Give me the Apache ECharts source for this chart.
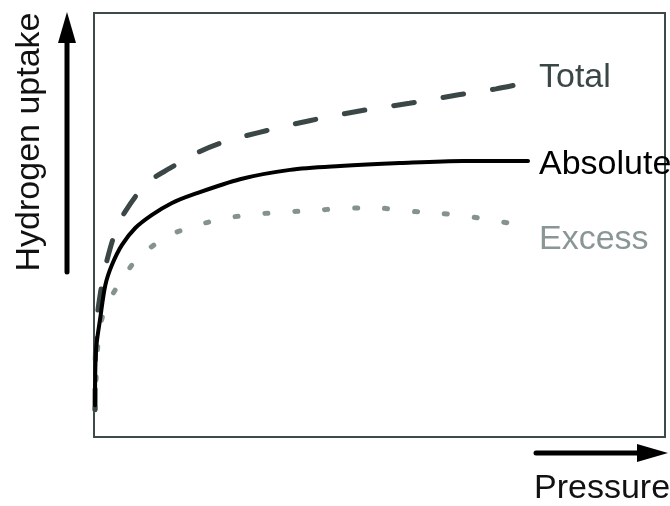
<!DOCTYPE html>
<html>
<head>
<meta charset="utf-8">
<script src="https://cdn.jsdelivr.net/npm/echarts@6/dist/echarts.min.js"></script>
<style>
html,body{margin:0;padding:0;background:#fff;}
#chart{width:670px;height:506px;}
</style>
</head>
<body>
<div id="chart"></div>
<script>
// Values on a 0–100 relative scale (pressure, uptake)
var totalX = [0.18, 0.35, 1.40, 2.28, 3.68, 5.43, 9.28, 13.31, 18.04, 22.07, 28.81, 37.74, 46.50, 55.25, 63.84, 70.40, 74.78];
var totalY = [6.4, 25.2, 36.3, 41.7, 48.1, 53.1, 59.9, 63.4, 67.0, 69.3, 71.8, 74.6, 76.9, 78.7, 80.7, 82.1, 83.3];

var absX = [0.18, 0.35, 1.10, 1.98, 3.15, 4.90, 7.23, 10.16, 13.66, 17.16, 25.57, 34.33, 43.08, 53.59, 64.62, 76.01];
var absY = [7.5, 20.5, 28.1, 35.8, 40.6, 45.3, 49.3, 52.4, 55.2, 57.1, 60.8, 63.0, 63.9, 64.6, 65.1, 65.1];

var excX = [0.18, 0.70, 1.58, 4.03, 7.71, 12.96, 18.21, 23.47, 28.72, 33.98, 39.23, 44.48, 49.74, 54.82, 60.07, 65.15, 70.58, 75.83];
var excY = [6.4, 22.2, 28.8, 35.4, 42.2, 47.4, 50.0, 51.7, 52.6, 53.1, 53.5, 54.0, 54.0, 53.3, 52.8, 52.1, 50.9, 49.8];

var seriesNames = ['Total', 'Absolute', 'Excess'];
var xAxisTitle = 'Pressure';
var yAxisTitle = 'Hydrogen uptake';

function pairs(xs, ys) { return xs.map(function (x, i) { return [x, ys[i]]; }); }

var FONT = 'Liberation Sans, Arial, sans-serif';
var chart = echarts.init(document.getElementById('chart'), null, {renderer: 'canvas'});

chart.setOption({
  animation: false,
  backgroundColor: '#ffffff',
  grid: {left: 94, right: 5, top: 13, bottom: 69, show: true, borderColor: '#3e4a4a', borderWidth: 2, backgroundColor: 'transparent'},
  xAxis: {type: 'value', min: 0, max: 100, axisLine: {show: false}, axisTick: {show: false}, axisLabel: {show: false}, splitLine: {show: false}},
  yAxis: {type: 'value', min: 0, max: 100, axisLine: {show: false}, axisTick: {show: false}, axisLabel: {show: false}, splitLine: {show: false}},
  series: [
    {
      name: seriesNames[0], type: 'line', data: pairs(totalX, totalY), smooth: 0.3,
      showSymbol: false, clip: false, z: 3,
      lineStyle: {color: '#3b4646', width: 5, type: [21, 29], cap: 'round'},
      endLabel: {show: true, formatter: seriesNames[0], color: '#3b4646', fontSize: 34, fontFamily: FONT, offset: [10, -6]}
    },
    {
      name: seriesNames[1], type: 'line', data: pairs(absX, absY), smooth: 0.3,
      showSymbol: false, clip: false, z: 4,
      lineStyle: {color: '#000000', width: 4, cap: 'round'},
      endLabel: {show: true, formatter: seriesNames[1], color: '#000000', fontSize: 34, fontFamily: FONT, offset: [3, 4]}
    },
    {
      name: seriesNames[2], type: 'line', data: pairs(excX, excY), smooth: 0.3,
      showSymbol: false, clip: false, z: 2,
      lineStyle: {color: '#86928f', width: 5, type: [3, 27], cap: 'round'},
      endLabel: {show: true, formatter: seriesNames[2], color: '#8a9696', fontSize: 34, fontFamily: FONT, offset: [4, 14]}
    }
  ],
  graphic: [
    {type: 'line', shape: {x1: 67, y1: 272, x2: 67, y2: 38}, style: {stroke: '#000', lineWidth: 5, lineCap: 'round'}},
    {type: 'polygon', shape: {points: [[67, 12], [58, 43], [76, 43]]}, style: {fill: '#000'}},
    {type: 'line', shape: {x1: 536, y1: 453, x2: 642, y2: 453}, style: {stroke: '#000', lineWidth: 5, lineCap: 'round'}},
    {type: 'polygon', shape: {points: [[668, 453], [637, 444], [637, 462]]}, style: {fill: '#000'}},
    {type: 'text', x: 30, y: 142, rotation: Math.PI / 2,
      style: {text: yAxisTitle, fill: '#111', font: '34px ' + FONT, align: 'center', verticalAlign: 'middle'}},
    {type: 'text', x: 534, y: 489,
      style: {text: xAxisTitle, fill: '#111', font: '34px ' + FONT, align: 'left', verticalAlign: 'middle'}}
  ]
});
</script>
</body>
</html>
